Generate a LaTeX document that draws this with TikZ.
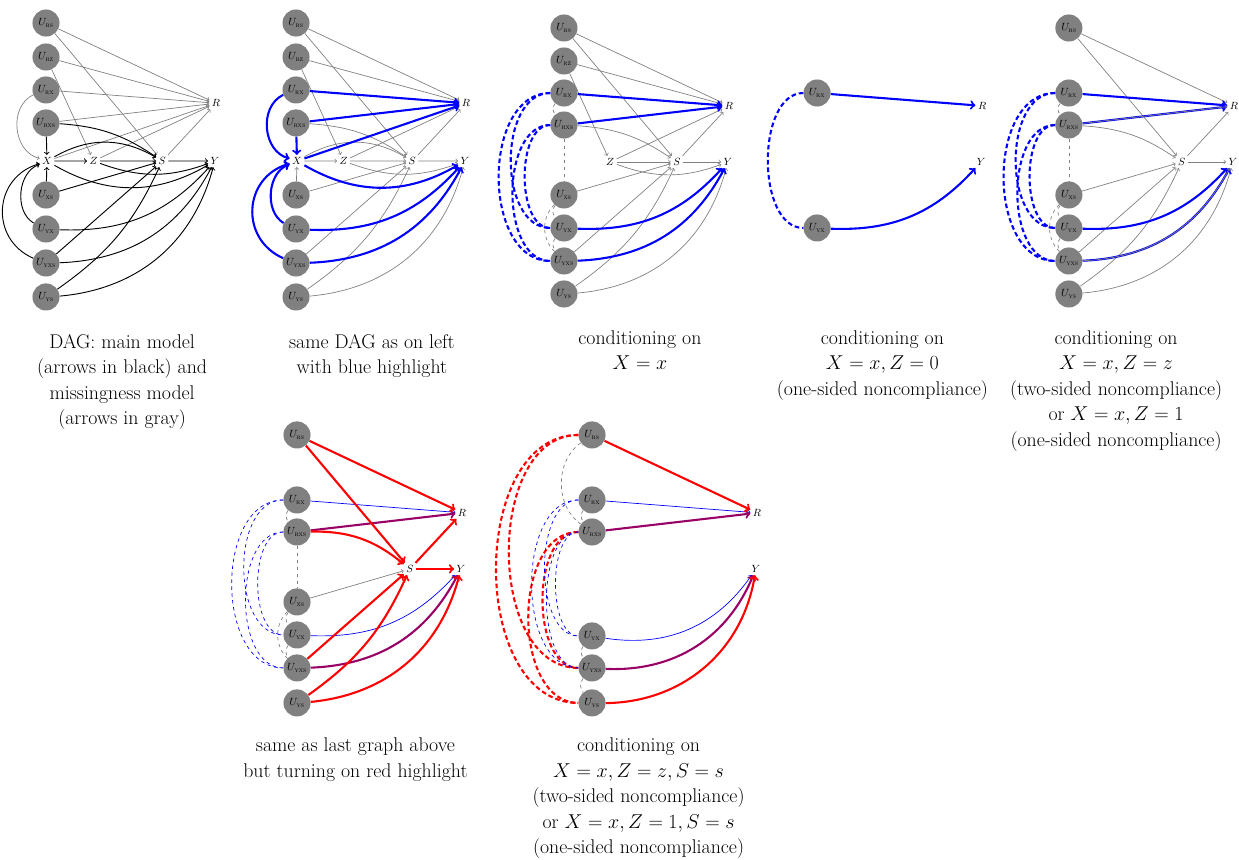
\documentclass[tikz,border=0pt]{standalone}
\usepackage{amsmath}
\usepackage{tikz}
\usetikzlibrary{arrows,calc,positioning}
\colorlet{redblue}{red!60!blue}

\begin{document}
\begin{tikzpicture}[
  unode/.style={circle,fill=gray,minimum size=0.82cm,inner sep=0pt,font=\small},
  vnode/.style={inner sep=2pt,font=\small},
  gedge/.style={->,gray,semithick},
  kedge/.style={->,black,thick},
  bedge/.style={->,blue,line width=1.8pt},
  bthin/.style={->,blue,semithick},
  redge/.style={->,red,line width=1.8pt},
  pedge/.style={->,redblue,line width=1.8pt},
  gdash/.style={gray,semithick,dashed},
  bdash/.style={blue,line width=1.8pt,dash pattern=on 4pt off 2.5pt},
  bdashthin/.style={blue,semithick,dashed},
  rdash/.style={red,line width=1.8pt,dash pattern=on 4pt off 2.5pt},
  uarc/.style={out=180,in=180,looseness=#1},
  capt/.style={anchor=north,align=center,inner sep=0pt,font=\fontsize{17.1pt}{22pt}\selectfont}
]
\useasboundingbox (0,0) rectangle (37.545,-26.03);

% DAG
\begin{scope}[shift={(1.394,-0.697)},scale=1.03]
\node[unode] (urs1) at (0,0) {$U_{\textsc{rs}}$};
\node[unode] (urz1) at (0,-1) {$U_{\textsc{rz}}$};
\node[unode] (urx1) at (0,-1.97) {$U_{\textsc{rx}}$};
\node[unode] (urxs1) at (0,-2.94) {$U_{\textsc{rxs}}$};
\node[vnode] (x1) at (0.03,-4.06) {$X$};
\node[vnode] (z1) at (1.4,-4.06) {$Z$};
\node[vnode] (s1) at (3.42,-4.06) {$S$};
\node[vnode] (y1) at (4.97,-4.06) {$Y$};
\node[vnode] (r1) at (5,-2.36) {$R$};
\node[unode] (uxs1) at (0,-5.06) {$U_{\textsc{xs}}$};
\node[unode] (uyx1) at (0,-6.06) {$U_{\textsc{yx}}$};
\node[unode] (uyxs1) at (0,-7.06) {$U_{\textsc{yxs}}$};
\node[unode] (uys1) at (0,-8.06) {$U_{\textsc{ys}}$};
\draw[gedge] (urs1) -- (r1);
\draw[gedge] (urs1) -- (s1);
\draw[gedge] (urz1) -- (r1);
\draw[gedge] (urz1) -- (z1);
\draw[gedge] (urx1) -- (r1);
\draw[gedge] (urx1) to[bend right=70,looseness=1.1] (x1);
\draw[gedge] (urxs1) -- (r1);
\draw[gedge] (x1) -- (r1);
\draw[gedge] (z1) -- (r1);
\draw[gedge] (s1) -- (r1);
\draw[kedge] (urxs1) -- (x1);
\draw[kedge] (urxs1) to[bend left=15] (s1);
\draw[kedge] (x1) -- (z1);
\draw[kedge] (x1) to[bend left=30] (s1);
\draw[kedge] (z1) -- (s1);
\draw[kedge] (s1) -- (y1);
\draw[kedge] (x1) to[bend right=30] (y1);
\draw[kedge] (z1) to[bend right=20] (y1);
\draw[kedge] (uxs1) -- (x1);
\draw[kedge] (uxs1) -- (s1);
\draw[kedge] (uyx1) to[bend left=65] (x1);
\draw[kedge] (uyxs1) to[bend left=70,looseness=1.3] (x1);
\draw[kedge] (uyx1) to[bend right=25] (y1);
\draw[kedge] (uyxs1) -- (s1);
\draw[kedge] (uyxs1) to[bend right=30] (y1);
\draw[kedge] (uys1) to[bend right=15] (s1);
\draw[kedge] (uys1) to[bend right=35] (y1);
\end{scope}

% blue highlight
\begin{scope}[shift={(8.97,-0.697)},scale=1.03]
\node[unode] (urs2) at (0,0) {$U_{\textsc{rs}}$};
\node[unode] (urz2) at (0,-1) {$U_{\textsc{rz}}$};
\node[unode] (urx2) at (0,-1.97) {$U_{\textsc{rx}}$};
\node[unode] (urxs2) at (0,-2.94) {$U_{\textsc{rxs}}$};
\node[vnode] (x2) at (0.03,-4.06) {$X$};
\node[vnode] (z2) at (1.4,-4.06) {$Z$};
\node[vnode] (s2) at (3.42,-4.06) {$S$};
\node[vnode] (y2) at (4.97,-4.06) {$Y$};
\node[vnode] (r2) at (5,-2.36) {$R$};
\node[unode] (uxs2) at (0,-5.06) {$U_{\textsc{xs}}$};
\node[unode] (uyx2) at (0,-6.06) {$U_{\textsc{yx}}$};
\node[unode] (uyxs2) at (0,-7.06) {$U_{\textsc{yxs}}$};
\node[unode] (uys2) at (0,-8.06) {$U_{\textsc{ys}}$};
\draw[gedge] (urs2) -- (r2);
\draw[gedge] (urs2) -- (s2);
\draw[gedge] (urz2) -- (r2);
\draw[gedge] (urz2) -- (z2);
\draw[gedge] (z2) -- (r2);
\draw[gedge] (s2) -- (r2);
\draw[gedge] (urxs2) to[bend left=15] (s2);
\draw[gedge] (x2) -- (z2);
\draw[gedge] (x2) to[bend left=30] (s2);
\draw[gedge] (z2) -- (s2);
\draw[gedge] (s2) -- (y2);
\draw[gedge] (z2) to[bend right=20] (y2);
\draw[gedge] (uxs2) -- (x2);
\draw[gedge] (uxs2) -- (s2);
\draw[gedge] (uyxs2) -- (s2);
\draw[gedge] (uys2) to[bend right=15] (s2);
\draw[gedge] (uys2) to[bend right=35] (y2);
\draw[bedge] (urx2) -- (r2);
\draw[bedge] (urx2) to[bend right=70,looseness=1.1] (x2);
\draw[bedge] (urxs2) -- (r2);
\draw[bedge] (urxs2) -- (x2);
\draw[bedge] (x2) -- (r2);
\draw[bedge] (x2) to[bend right=30] (y2);
\draw[bedge] (uyx2) to[bend left=65] (x2);
\draw[bedge] (uyxs2) to[bend left=70,looseness=1.3] (x2);
\draw[bedge] (uyx2) to[bend right=25] (y2);
\draw[bedge] (uyxs2) to[bend right=30] (y2);
\end{scope}

% X = x
\begin{scope}[shift={(17.09,-0.848)}]
\node[unode] (urs3) at (0,0) {$U_{\textsc{rs}}$};
\node[unode] (urz3) at (0,-1) {$U_{\textsc{rz}}$};
\node[unode] (urx3) at (0,-1.97) {$U_{\textsc{rx}}$};
\node[unode] (urxs3) at (0,-2.94) {$U_{\textsc{rxs}}$};
\node[vnode] (z3) at (1.4,-4.06) {$Z$};
\node[vnode] (s3) at (3.42,-4.06) {$S$};
\node[vnode] (y3) at (4.97,-4.06) {$Y$};
\node[vnode] (r3) at (5,-2.36) {$R$};
\node[unode] (uxs3) at (0,-5.06) {$U_{\textsc{xs}}$};
\node[unode] (uyx3) at (0,-6.06) {$U_{\textsc{yx}}$};
\node[unode] (uyxs3) at (0,-7.06) {$U_{\textsc{yxs}}$};
\node[unode] (uys3) at (0,-8.06) {$U_{\textsc{ys}}$};
\draw[gedge] (urs3) -- (r3);
\draw[gedge] (urs3) -- (s3);
\draw[gedge] (urz3) -- (r3);
\draw[gedge] (urz3) -- (z3);
\draw[gedge] (urxs3) to[bend left=15] (s3);
\draw[gedge] (z3) -- (r3);
\draw[gedge] (z3) -- (s3);
\draw[gedge] (z3) to[bend right=20] (y3);
\draw[gedge] (s3) -- (r3);
\draw[gedge] (s3) -- (y3);
\draw[gedge] (uxs3) -- (s3);
\draw[gedge] (uyxs3) -- (s3);
\draw[gedge] (uys3) to[bend right=15] (s3);
\draw[gedge] (uys3) to[bend right=35] (y3);
\draw[bedge] (urx3) -- (r3);
\draw[bedge] (urxs3) -- (r3);
\draw[bedge] (uyx3) to[bend right=25] (y3);
\draw[bedge] (uyxs3) to[bend right=30] (y3);
\draw[gdash] (urx3) to[bend right=40] (urxs3);
\draw[gdash] (urxs3) -- (uxs3);
\draw[gdash] (uxs3) to[bend right=40] (uyx3);
\draw[gdash] (uxs3) to[bend right=45] (uyxs3);
\draw[gdash] (uyx3) to[bend right=40] (uyxs3);
\draw[bdash] (urx3) to[uarc=1.05] (uyxs3);
\draw[bdash] (urx3) to[uarc=1.0] (uyx3);
\draw[bdash] (urxs3) to[uarc=0.95] (uyxs3);
\draw[bdash] (urxs3) to[uarc=0.85] (uyx3);
\end{scope}

% X = x, Z = 0
\begin{scope}[shift={(24.76,-0.848)}]
\node[unode] (urx4) at (0,-1.97) {$U_{\textsc{rx}}$};
\node[vnode] (y4) at (4.97,-4.06) {$Y$};
\node[vnode] (r4) at (5,-2.36) {$R$};
\node[unode] (uyx4) at (0,-6.06) {$U_{\textsc{yx}}$};
\draw[bedge] (urx4) -- (r4);
\draw[bedge] (uyx4) to[bend right=25] (y4);
\draw[bdash] (urx4) to[uarc=0.9] (uyx4);
\end{scope}

% X = x, Z = z
\begin{scope}[shift={(32.39,-0.848)}]
\node[unode] (urs5) at (0,0) {$U_{\textsc{rs}}$};
\node[unode] (urx5) at (0,-1.97) {$U_{\textsc{rx}}$};
\node[unode] (urxs5) at (0,-2.94) {$U_{\textsc{rxs}}$};
\node[vnode] (s5) at (3.42,-4.06) {$S$};
\node[vnode] (y5) at (4.97,-4.06) {$Y$};
\node[vnode] (r5) at (5,-2.36) {$R$};
\node[unode] (uxs5) at (0,-5.06) {$U_{\textsc{xs}}$};
\node[unode] (uyx5) at (0,-6.06) {$U_{\textsc{yx}}$};
\node[unode] (uyxs5) at (0,-7.06) {$U_{\textsc{yxs}}$};
\node[unode] (uys5) at (0,-8.06) {$U_{\textsc{ys}}$};
\draw[gedge] (urs5) -- (r5);
\draw[gedge] (urs5) -- (s5);
\draw[gedge] (urxs5) to[bend left=15] (s5);
\draw[gedge] (s5) -- (r5);
\draw[gedge] (s5) -- (y5);
\draw[gedge] (uxs5) -- (s5);
\draw[gedge] (uyxs5) -- (s5);
\draw[gedge] (uys5) to[bend right=15] (s5);
\draw[gedge] (uys5) to[bend right=35] (y5);
\draw[bedge] (urx5) -- (r5);
\draw[bedge] (urxs5) -- (r5);
\draw[gedge] (urxs5) -- (r5);
\draw[bedge] (uyx5) to[bend right=25] (y5);
\draw[bedge] (uyxs5) to[bend right=30] (y5);
\draw[gedge] (uyxs5) to[bend right=30] (y5);
\draw[gdash] (urx5) to[bend right=40] (urxs5);
\draw[gdash] (urxs5) -- (uxs5);
\draw[gdash] (uxs5) to[bend right=40] (uyx5);
\draw[gdash] (uxs5) to[bend right=45] (uyxs5);
\draw[gdash] (uyx5) to[bend right=40] (uyxs5);
\draw[bdash] (urx5) to[uarc=1.05] (uyxs5);
\draw[bdash] (urx5) to[uarc=1.0] (uyx5);
\draw[bdash] (urxs5) to[uarc=0.95] (uyxs5);
\draw[bdash] (urxs5) to[uarc=0.85] (uyx5);
\end{scope}

% red highlight
\begin{scope}[shift={(9.0,-13.18)}]
\node[unode] (urs6) at (0,0) {$U_{\textsc{rs}}$};
\node[unode] (urx6) at (0,-1.97) {$U_{\textsc{rx}}$};
\node[unode] (urxs6) at (0,-2.94) {$U_{\textsc{rxs}}$};
\node[vnode] (s6) at (3.42,-4.06) {$S$};
\node[vnode] (y6) at (4.97,-4.06) {$Y$};
\node[vnode] (r6) at (5,-2.36) {$R$};
\node[unode] (uxs6) at (0,-5.06) {$U_{\textsc{xs}}$};
\node[unode] (uyx6) at (0,-6.06) {$U_{\textsc{yx}}$};
\node[unode] (uyxs6) at (0,-7.06) {$U_{\textsc{yxs}}$};
\node[unode] (uys6) at (0,-8.12) {$U_{\textsc{ys}}$};
\draw[gedge] (uxs6) -- (s6);
\draw[bthin] (urx6) -- (r6);
\draw[bthin] (uyx6) to[bend right=25] (y6);
\draw[pedge] (urxs6) -- (r6);
\draw[pedge] (uyxs6) to[bend right=30] (y6);
\draw[redge] (urs6) -- (r6);
\draw[redge] (urs6) -- (s6);
\draw[redge] (urxs6) to[bend left=20] (s6);
\draw[redge] (s6) -- (r6);
\draw[redge] (s6) -- (y6);
\draw[redge] (uyxs6) -- (s6);
\draw[redge] (uys6) to[bend right=15] (s6);
\draw[redge] (uys6) to[bend right=35] (y6);
\draw[gdash] (urx6) to[bend right=40] (urxs6);
\draw[gdash] (urxs6) -- (uxs6);
\draw[gdash] (uxs6) to[bend right=40] (uyx6);
\draw[gdash] (uxs6) to[bend right=45] (uyxs6);
\draw[gdash] (uyx6) to[bend right=40] (uyxs6);
\draw[bdashthin] (urx6) to[uarc=1.05] (uyxs6);
\draw[bdashthin] (urx6) to[uarc=1.0] (uyx6);
\draw[bdashthin] (urxs6) to[uarc=0.95] (uyxs6);
\draw[bdashthin] (urxs6) to[uarc=0.85] (uyx6);
\end{scope}

% X = x, Z = z, S = s
\begin{scope}[shift={(17.94,-13.18)}]
\node[unode] (urs7) at (0,0) {$U_{\textsc{rs}}$};
\node[unode] (urx7) at (0,-1.97) {$U_{\textsc{rx}}$};
\node[unode] (urxs7) at (0,-2.94) {$U_{\textsc{rxs}}$};
\node[vnode] (y7) at (4.97,-4.06) {$Y$};
\node[vnode] (r7) at (5,-2.36) {$R$};
\node[unode] (uyx7) at (0,-6.09) {$U_{\textsc{yx}}$};
\node[unode] (uyxs7) at (0,-7.06) {$U_{\textsc{yxs}}$};
\node[unode] (uys7) at (0,-8.12) {$U_{\textsc{ys}}$};
\draw[bthin] (urx7) -- (r7);
\draw[bthin] (uyx7) to[bend right=32] (y7);
\draw[pedge] (urxs7) -- (r7);
\draw[pedge] (uyxs7) to[bend right=35] (y7);
\draw[redge] (urs7) -- (r7);
\draw[redge] (uys7) to[bend right=40] (y7);
\draw[gdash] (urs7) to[bend right=55] (urxs7);
\draw[gdash] (urx7) to[bend right=40] (urxs7);
\draw[gdash] (uyx7) to[bend right=40] (uyxs7);
\draw[gdash] (uyxs7) to[bend right=40] (uys7);
\draw[rdash] (urs7) to[uarc=1.05] (uys7);
\draw[rdash] (urs7) to[uarc=1.02] (uyxs7);
\draw[rdash] (urxs7) to[uarc=1.0] (uys7);
\draw[rdash] (urxs7) to[uarc=0.9] (uyxs7);
\draw[bdashthin] (urx7) to[uarc=0.95] (uyxs7);
\draw[bdashthin] (urx7) to[uarc=0.85] (uyx7);
\draw[bdashthin] (urxs7) to[uarc=0.8] (uyxs7);
\draw[bdashthin] (urxs7) to[uarc=0.75] (uyx7);
\end{scope}

% captions
\node[capt] (cap1) at (3.70,-10.12) {DAG: main model\\(arrows in black) and\\missingness model\\(arrows in gray)};
\node[capt] (cap2) at (11.27,-10.12) {same DAG as on left\\with blue highlight};
\node[capt] (cap3) at (19.39,-10.0) {conditioning on\\$X=x$};
\node[capt] (cap4) at (26.74,-10.0) {conditioning on\\$X=x,Z=0$\\(one-sided noncompliance)};
\node[capt] (cap5) at (33.82,-10.0) {conditioning on\\$X=x,Z=z$\\(two-sided noncompliance)\\or $X=x,Z=1$\\(one-sided noncompliance)};
\node[capt] (cap6) at (10.77,-22.36) {same as last graph above\\but turning on red highlight};
\node[capt] (cap7) at (19.35,-22.36) {conditioning on\\$X=x,Z=z,S=s$\\(two-sided noncompliance)\\or $X=x,Z=1,S=s$\\(one-sided noncompliance)};
\end{tikzpicture}
\end{document}
